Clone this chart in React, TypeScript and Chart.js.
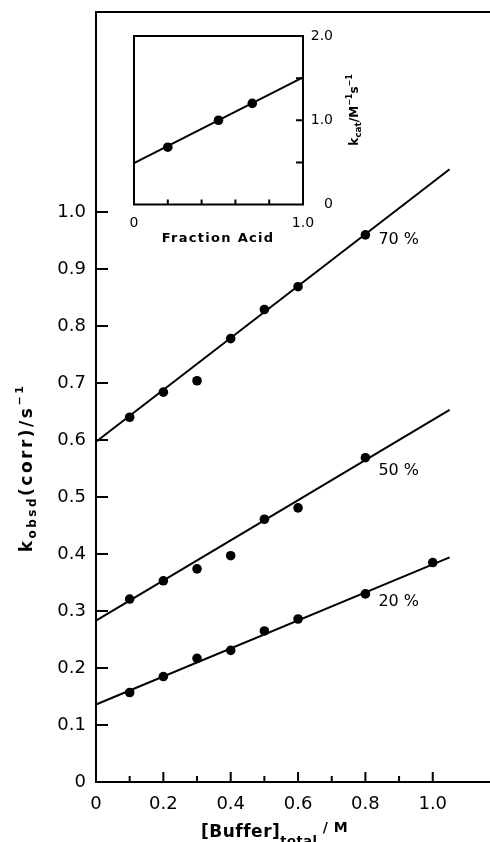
import React, { useEffect, useRef } from 'react';
import { Chart, registerables } from 'chart.js';

Chart.register(...registerables);

// Buffer concentrations (M) and observed rate constants (s^-1)
const bufferTotal = [0.1, 0.2, 0.3, 0.4, 0.5, 0.6, 0.8];
const bufferTotal20 = [0.1, 0.2, 0.3, 0.4, 0.5, 0.6, 0.8, 1.0];
const kObsd70 = [0.64, 0.684, 0.704, 0.778, 0.829, 0.869, 0.96];
const kObsd50 = [0.321, 0.353, 0.374, 0.397, 0.461, 0.481, 0.569];
const kObsd20 = [0.157, 0.185, 0.217, 0.231, 0.265, 0.286, 0.33, 0.385];

// Least-squares lines (endpoints)
const fitRange = [0, 1.05];
const fit70 = [0.597, 1.075];
const fit50 = [0.283, 0.653];
const fit20 = [0.136, 0.394];
const seriesLabels = ['70 %', '50 %', '20 %'];

// Main axes ticks
const yTickValues = [0, 0.1, 0.2, 0.3, 0.4, 0.5, 0.6, 0.7, 0.8, 0.9, 1.0];
const xTickValues = [0, 0.2, 0.4, 0.6, 0.8, 1.0];
const xMinorTickValues = [0.1, 0.3, 0.5, 0.7, 0.9];

// Inset: catalytic constant vs fraction acid
const fractionAcid = [0.2, 0.5, 0.7];
const kCat = [0.68, 1.0, 1.2];
const insetFitRange = [0, 1];
const insetFit = [0.49, 1.51];
const insetXTicks = [0, 1];
const insetXMinorTicks = [0.2, 0.4, 0.6, 0.8];
const insetYTicks = [0, 1, 2];
const insetYMinorTicks = [0.5, 1.5];

const FAMILY = '"DejaVu Sans", sans-serif';

const fmt = (v: number) => (v === 0 ? '0' : Number(v).toFixed(1));

type Run = { text: string; size: number; dy: number; bold?: boolean };

function drawRuns(
  ctx: CanvasRenderingContext2D,
  runs: Run[],
  x: number,
  y: number,
  align: 'center' | 'left',
  spacing = 0
) {
  ctx.save();
  ctx.fillStyle = '#000';
  ctx.textBaseline = 'alphabetic';
  ctx.textAlign = 'left';
  (ctx as any).letterSpacing = spacing + 'px';
  const fontOf = (r: Run) => `${r.bold ? 'bold ' : ''}${r.size}px ${FAMILY}`;
  const widths = runs.map((r) => {
    ctx.font = fontOf(r);
    return ctx.measureText(r.text).width;
  });
  const total = widths.reduce((a, b) => a + b, 0);
  let cx = align === 'center' ? x - total / 2 : x;
  runs.forEach((r, i) => {
    ctx.font = fontOf(r);
    ctx.fillText(r.text, cx, y + r.dy);
    cx += widths[i];
  });
  ctx.restore();
}

const pts = (xs: number[], ys: number[]) => xs.map((x, i) => ({ x, y: ys[i] }));

const lineDs = (xs: number[], ys: number[]) => ({
  data: pts(xs, ys),
  showLine: true,
  borderColor: '#000',
  borderWidth: 2,
  pointRadius: 0,
  clip: false as any,
});

const dotDs = (xs: number[], ys: number[], r: number) => ({
  data: pts(xs, ys),
  showLine: false,
  pointRadius: r,
  pointBackgroundColor: '#000',
  pointBorderWidth: 0,
  clip: false as any,
});

const mainDecor = {
  id: 'mainDecor',
  afterDraw(chart: any) {
    const { ctx, chartArea } = chart;
    const xs = chart.scales.x;
    const ys = chart.scales.y;
    ctx.save();
    ctx.strokeStyle = '#000';
    ctx.lineWidth = 2;
    // top frame line
    ctx.beginPath();
    ctx.moveTo(chartArea.left - 1, chartArea.top);
    ctx.lineTo(chartArea.right, chartArea.top);
    ctx.stroke();
    // inward y ticks
    ctx.beginPath();
    yTickValues.slice(1).forEach((v) => {
      const py = ys.getPixelForValue(v);
      ctx.moveTo(chartArea.left, py);
      ctx.lineTo(chartArea.left + 12, py);
    });
    // inward x ticks
    xTickValues.slice(1).forEach((v) => {
      const px = xs.getPixelForValue(v);
      ctx.moveTo(px, chartArea.bottom);
      ctx.lineTo(px, chartArea.bottom - 10);
    });
    xMinorTickValues.forEach((v) => {
      const px = xs.getPixelForValue(v);
      ctx.moveTo(px, chartArea.bottom);
      ctx.lineTo(px, chartArea.bottom - 6);
    });
    ctx.stroke();

    // series labels next to the 0.8 M points
    ctx.fillStyle = '#000';
    ctx.font = `16px ${FAMILY}`;
    ctx.textAlign = 'left';
    ctx.textBaseline = 'middle';
    const anchors = [kObsd70[6], kObsd50[6], kObsd20[6]];
    const dys = [5, 13, 8];
    seriesLabels.forEach((t, i) => {
      const px = xs.getPixelForValue(bufferTotal[6]);
      const py = ys.getPixelForValue(anchors[i]);
      ctx.fillText(t, px + 13, py + dys[i]);
    });
    ctx.restore();

    // y-axis title
    ctx.save();
    ctx.translate(32, 468);
    ctx.rotate(-Math.PI / 2);
    drawRuns(
      ctx,
      [
        { text: 'k', size: 17, dy: 0, bold: true },
        { text: 'obsd', size: 12, dy: 4, bold: true },
        { text: '(corr)/s', size: 17, dy: 0, bold: true },
        { text: '−1', size: 11, dy: -9, bold: true },
      ],
      0,
      0,
      'center',
      2.5
    );
    ctx.restore();

    // x-axis title
    drawRuns(
      ctx,
      [
        { text: '[Buffer]', size: 17, dy: 0, bold: true },
        { text: 'total', size: 13, dy: 8, bold: true },
        { text: ' / M', size: 14, dy: -5, bold: true },
      ],
      201,
      837,
      'left',
      0.5
    );
  },
};

const insetDecor = {
  id: 'insetDecor',
  beforeDraw(chart: any) {
    const { ctx, chartArea } = chart;
    ctx.save();
    ctx.fillStyle = '#fff';
    ctx.fillRect(chartArea.left, chartArea.top, chartArea.right - chartArea.left, chartArea.bottom - chartArea.top);
    ctx.restore();
  },
  afterDraw(chart: any) {
    const { ctx, chartArea } = chart;
    const xs = chart.scales.x;
    const ys = chart.scales.y;
    ctx.save();
    ctx.strokeStyle = '#000';
    ctx.lineWidth = 2;
    ctx.strokeRect(chartArea.left, chartArea.top, chartArea.right - chartArea.left, chartArea.bottom - chartArea.top);
    ctx.beginPath();
    insetXMinorTicks.forEach((v) => {
      const px = xs.getPixelForValue(v);
      ctx.moveTo(px, chartArea.bottom);
      ctx.lineTo(px, chartArea.bottom - 5);
    });
    [...insetYMinorTicks, 1].forEach((v) => {
      const py = ys.getPixelForValue(v);
      ctx.moveTo(chartArea.right, py);
      ctx.lineTo(chartArea.right - 7, py);
    });
    ctx.stroke();
    ctx.restore();

    // x title
    drawRuns(ctx, [{ text: 'Fraction Acid', size: 13, dy: 0, bold: true }], 118, 222, 'center', 1.3);

    // y title (right side)
    ctx.save();
    ctx.translate(258, 90);
    ctx.rotate(-Math.PI / 2);
    drawRuns(
      ctx,
      [
        { text: 'k', size: 12, dy: 0, bold: true },
        { text: 'cat', size: 9, dy: 3, bold: true },
        { text: '/M', size: 12, dy: 0, bold: true },
        { text: '−1', size: 8, dy: -6, bold: true },
        { text: 's', size: 12, dy: 0, bold: true },
        { text: '−1', size: 8, dy: -6, bold: true },
      ],
      0,
      0,
      'center',
      0
    );
    ctx.restore();
  },
};

export default function App() {
  const mainRef = useRef<HTMLCanvasElement>(null);
  const insetRef = useRef<HTMLCanvasElement>(null);

  useEffect(() => {
    document.body.style.margin = '0';
    const main = new Chart(mainRef.current as HTMLCanvasElement, {
      type: 'scatter',
      data: {
        datasets: [
          lineDs(fitRange, fit70),
          lineDs(fitRange, fit50),
          lineDs(fitRange, fit20),
          dotDs(bufferTotal, kObsd70, 4.8),
          dotDs(bufferTotal, kObsd50, 4.8),
          dotDs(bufferTotal20, kObsd20, 4.8),
        ] as any,
      },
      options: {
        animation: false,
        responsive: false,
        devicePixelRatio: 1,
        layout: { autoPadding: false, padding: { top: 12, left: 0, right: 0, bottom: 0 } },
        plugins: { legend: { display: false }, tooltip: { enabled: false } },
        scales: {
          x: {
            type: 'linear',
            min: 0,
            max: 1.17,
            grid: { display: false, drawTicks: false },
            border: { display: true, color: '#000', width: 2 },
            afterBuildTicks: (s: any) => {
              s.ticks = xTickValues.map((v) => ({ value: v }));
            },
            afterFit: (s: any) => {
              s.height = 60;
              s.paddingLeft = 0;
              s.paddingRight = 0;
            },
            ticks: {
              color: '#000',
              font: { family: FAMILY, size: 18 },
              padding: 12,
              maxRotation: 0,
              autoSkip: false,
              callback: (v: any) => fmt(Number(v)),
            },
          },
          y: {
            type: 'linear',
            min: 0,
            max: 1.351,
            grid: { display: false, drawTicks: false },
            border: { display: true, color: '#000', width: 2 },
            afterBuildTicks: (s: any) => {
              s.ticks = yTickValues.map((v) => ({ value: v }));
            },
            afterFit: (s: any) => {
              s.width = 96;
              s.paddingTop = 0;
              s.paddingBottom = 0;
            },
            ticks: {
              color: '#000',
              font: { family: FAMILY, size: 18 },
              padding: 10,
              autoSkip: false,
              callback: (v: any) => fmt(Number(v)),
            },
          },
        },
      },
      plugins: [mainDecor],
    });

    const inset = new Chart(insetRef.current as HTMLCanvasElement, {
      type: 'scatter',
      data: {
        datasets: [lineDs(insetFitRange, insetFit), dotDs(fractionAcid, kCat, 4.8)] as any,
      },
      options: {
        animation: false,
        responsive: false,
        devicePixelRatio: 1,
        layout: { autoPadding: false, padding: { top: 16, left: 34, right: 47, bottom: 0 } },
        plugins: { legend: { display: false }, tooltip: { enabled: false } },
        scales: {
          x: {
            type: 'linear',
            min: 0,
            max: 1,
            grid: { display: false, drawTicks: false },
            border: { display: false },
            afterBuildTicks: (s: any) => {
              s.ticks = insetXTicks.map((v) => ({ value: v }));
            },
            afterFit: (s: any) => {
              s.height = 45.5;
              s.paddingLeft = 0;
              s.paddingRight = 0;
            },
            ticks: {
              color: '#000',
              font: { family: FAMILY, size: 14 },
              padding: 10,
              maxRotation: 0,
              autoSkip: false,
              callback: (v: any) => fmt(Number(v)),
            },
          },
          y: {
            type: 'linear',
            position: 'right',
            min: 0,
            max: 2,
            grid: { display: false, drawTicks: false },
            border: { display: false },
            afterBuildTicks: (s: any) => {
              s.ticks = insetYTicks.map((v) => ({ value: v }));
            },
            afterFit: (s: any) => {
              s.width = 30;
              s.paddingTop = 0;
              s.paddingBottom = 0;
            },
            ticks: {
              color: '#000',
              font: { family: FAMILY, size: 14 },
              padding: 8,
              crossAlign: 'far',
              autoSkip: false,
              callback: (v: any) => fmt(Number(v)),
            },
          },
        },
      },
      plugins: [insetDecor],
    });

    return () => {
      main.destroy();
      inset.destroy();
    };
  }, []);

  return (
    <div style={{ position: 'relative', width: 490, height: 842, background: '#fff' }}>
      <canvas ref={mainRef} width={490} height={842} style={{ display: 'block' }} />
      <canvas
        ref={insetRef}
        width={280}
        height={230}
        style={{ position: 'absolute', left: 100, top: 20, display: 'block' }}
      />
    </div>
  );
}
